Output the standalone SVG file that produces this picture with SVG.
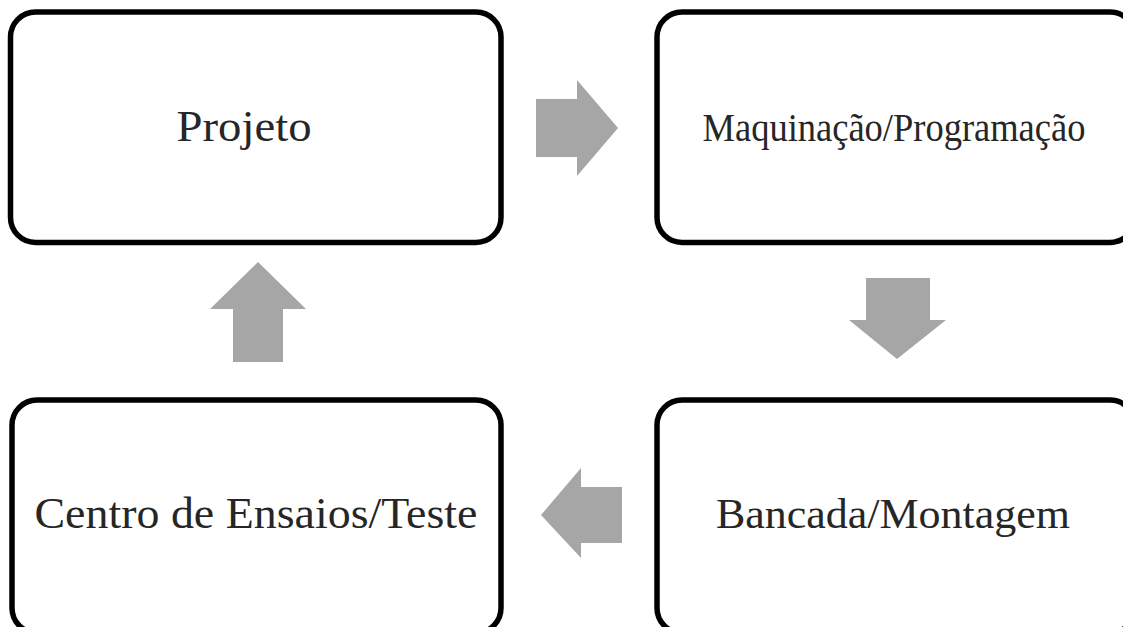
<svg xmlns="http://www.w3.org/2000/svg" width="1123" height="627" viewBox="0 0 1123 627">
<style>
.box{fill:#fff;stroke:#000;stroke-width:5.5}
.lbl{font-family:"Liberation Serif","Times New Roman",serif;fill:#262626;text-anchor:middle}
.arr{fill:#a6a6a6}
</style>
<rect width="1123" height="627" fill="#fff"/>
<g id="node-projeto">
<rect class="box" x="10.5" y="12" width="490.5" height="230.5" rx="25"/>
<text class="lbl" x="244" y="141" font-size="44" textLength="135" lengthAdjust="spacingAndGlyphs">Projeto</text>
</g>
<g id="node-maquinacao">
<rect class="box" x="657" y="12" width="478" height="230.5" rx="25"/>
<text class="lbl" transform="translate(894,141) scale(0.89,1)" x="0" y="0" font-size="41">Maquinação/Programação</text>
</g>
<g id="node-bancada">
<rect class="box" x="657" y="400" width="478" height="233" rx="25"/>
<text class="lbl" x="893" y="528" font-size="43" textLength="354" lengthAdjust="spacingAndGlyphs">Bancada/Montagem</text>
</g>
<g id="node-centro">
<rect class="box" x="12" y="400" width="489" height="233" rx="25"/>
<text class="lbl" x="256" y="528" font-size="44" textLength="443" lengthAdjust="spacingAndGlyphs">Centro de Ensaios/Teste</text>
</g>
<g id="connectors">
<polygon class="arr" points="536,99 577,99 577,80 618,128 577,176 577,157 536,157"/>
<polygon class="arr" points="866,278 930,278 930,320 946,320 897,359 849,320 866,320"/>
<polygon class="arr" points="622,487 581,487 581,468 541,515 581,558 581,543 622,543"/>
<polygon class="arr" points="233,362 283,362 283,309 306,309 258,262 210,309 233,309"/>
</g>
</svg>
